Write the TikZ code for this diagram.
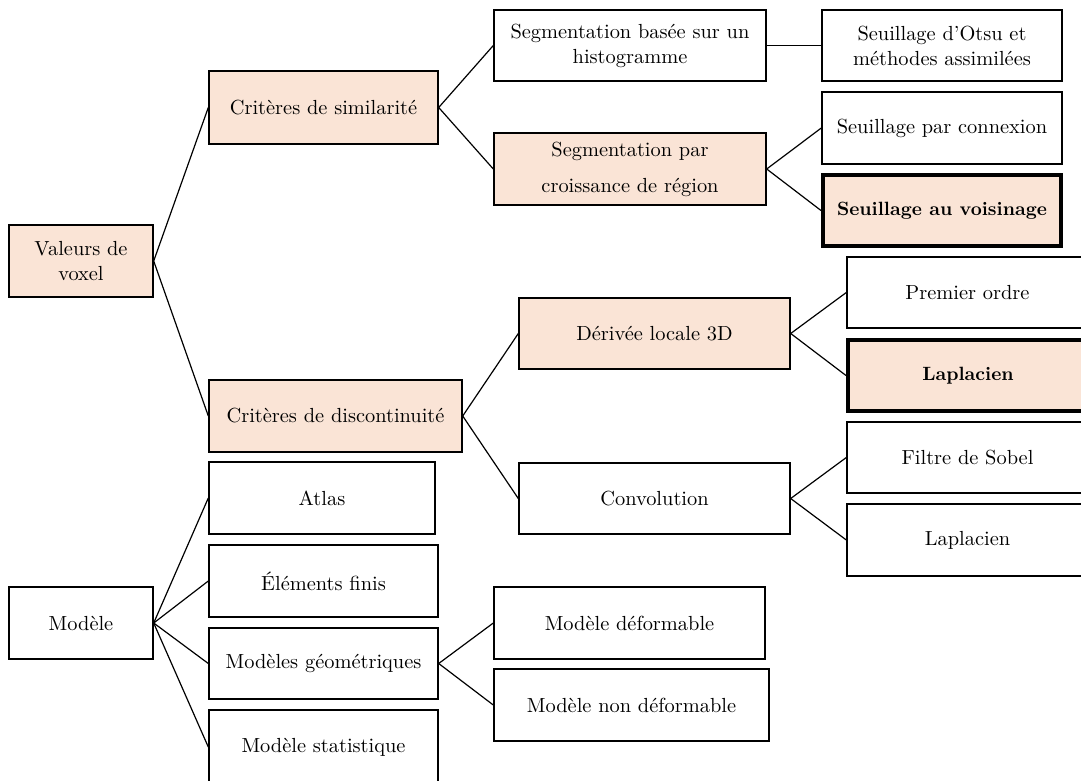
\documentclass[tikz,border=0pt]{standalone}
\definecolor{peach}{RGB}{250,228,214}
\tikzset{
  box/.style={draw=black, line width=0.7pt, inner sep=2pt, align=center,
    font=\fontsize{10.2}{12.5}\selectfont},
  hl/.style={box, fill=peach},
  wt/.style={box, fill=white},
  hlb/.style={hl, line width=2pt, font=\fontsize{9.6}{12.5}\selectfont\bfseries},
  link/.style={line width=0.6pt}
}
\newcommand\pbox[7]{\node[#1, minimum width={(#5-#3)*0.5pt}, minimum height={(#6-#4)*0.5pt}] (#2) at ({(#3+#5)/2},{(#4+#6)/2}) {#7};}
\begin{document}
\begin{tikzpicture}[x=0.5pt,y=-0.5pt]
\clip (0,0) rectangle (1081,781);
\fill[white] (0,0) rectangle (1081,781);
% level 0
\pbox{hl}{valeurs}{9}{225}{153}{297}{Valeurs de\\voxel}
\pbox{wt}{modele}{9}{587}{153}{659}{Modèle}
% level 1
\pbox{hl}{critsim}{209}{71}{438}{144}{Critères de similarité}
\pbox{hl}{critdisc}{209}{380}{462}{452}{Critères de discontinuité}
\pbox{wt}{atlas}{209}{462}{435}{534}{Atlas}
\pbox{wt}{elem}{209}{545}{438}{617}{Éléments finis}
\pbox{wt}{geom}{209}{628}{438}{699}{Modèles géométriques}
\pbox{wt}{stat}{209}{710}{438}{784}{Modèle statistique}
% level 2
\pbox{wt}{seghist}{494}{10}{766}{81}{Segmentation basée sur un\\histogramme}
\pbox{hl}{segcroiss}{494}{133}{766}{205}{Segmentation par\\[5.5pt]croissance de région}
\pbox{hl}{derivee}{519}{298}{790}{369}{Dérivée locale 3D}
\pbox{wt}{convol}{519}{463}{790}{534}{Convolution}
\pbox{wt}{deform}{494}{587}{765}{659}{Modèle déformable}
\pbox{wt}{nondeform}{494}{669}{769}{741}{Modèle non déformable}
% level 3
\pbox{wt}{otsu}{822}{10}{1062}{81}{Seuillage d’Otsu et\\méthodes assimilées}
\pbox{wt}{connex}{822}{92}{1062}{164}{Seuillage par connexion}
\pbox{hlb}{voisin}{823}{175}{1061}{246}{Seuillage au voisinage}
\pbox{wt}{premier}{847}{257}{1088}{328}{Premier ordre}
\pbox{hlb}{lapa}{848}{340}{1088}{411}{Laplacien}
\pbox{wt}{filtre}{847}{422}{1088}{493}{Filtre de Sobel}
\pbox{wt}{lapb}{847}{504}{1088}{576}{Laplacien}
% connectors
\draw[link] (valeurs.east) -- (critsim.west);
\draw[link] (valeurs.east) -- (critdisc.west);
\draw[link] (critsim.east) -- (seghist.west);
\draw[link] (critsim.east) -- (segcroiss.west);
\draw[link] (seghist.east) -- (otsu.west);
\draw[link] (segcroiss.east) -- (connex.west);
\draw[link] (segcroiss.east) -- (voisin.west);
\draw[link] (critdisc.east) -- (derivee.west);
\draw[link] (critdisc.east) -- (convol.west);
\draw[link] (derivee.east) -- (premier.west);
\draw[link] (derivee.east) -- (lapa.west);
\draw[link] (convol.east) -- (filtre.west);
\draw[link] (convol.east) -- (lapb.west);
\draw[link] (modele.east) -- (atlas.west);
\draw[link] (modele.east) -- (elem.west);
\draw[link] (modele.east) -- (geom.west);
\draw[link] (modele.east) -- (stat.west);
\draw[link] (geom.east) -- (deform.west);
\draw[link] (geom.east) -- (nondeform.west);
\end{tikzpicture}
\end{document}
